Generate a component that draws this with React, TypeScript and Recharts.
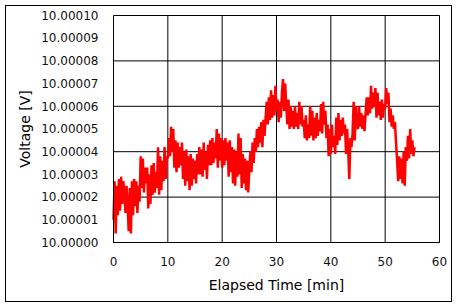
import { LineChart, Line, XAxis, YAxis, CartesianGrid } from "recharts";

// sample spacing of the logger, in minutes
const SAMPLE_MIN = 0.2;

// reading above 10 V, in microvolts (one row per minute)
const voltageOffsetUV = [
  10, 27, 4, 25, 12,
  28, 14, 29, 17, 27,
  22, 13, 25, 16, 5,
  24, 4, 27, 12, 28,
  16, 27, 13, 25, 18,
  38, 24, 37, 22, 33,
  26, 33, 15, 30, 17,
  34, 21, 35, 22, 31,
  24, 42, 21, 38, 23,
  36, 27, 42, 28, 38,
  37, 46, 38, 51, 40,
  50, 33, 45, 31, 44,
  33, 42, 34, 44, 28,
  40, 25, 41, 27, 38,
  23, 39, 25, 37, 28,
  36, 26, 39, 30, 42,
  30, 41, 29, 44, 32,
  40, 28, 43, 34, 45,
  34, 46, 35, 44, 37,
  50, 33, 48, 36, 46,
  33, 45, 34, 46, 36,
  44, 29, 45, 31, 42,
  26, 41, 25, 40, 29,
  48, 30, 46, 24, 39,
  26, 37, 23, 36, 22,
  33, 40, 31, 44, 35,
  46, 40, 50, 42, 51,
  44, 53, 42, 54, 47,
  55, 62, 52, 64, 54,
  67, 55, 65, 56, 69,
  58, 63, 53, 62, 55,
  66, 72, 58, 70, 60,
  52, 63, 50, 60, 51,
  58, 50, 60, 51, 57,
  50, 62, 52, 60, 51,
  54, 46, 56, 45, 52,
  46, 60, 47, 58, 45,
  55, 46, 57, 47, 54,
  49, 61, 48, 62, 52,
  58, 46, 52, 38, 50,
  39, 52, 42, 47, 39,
  55, 43, 57, 45, 54,
  47, 55, 48, 52, 39,
  50, 40, 28, 46, 42,
  48, 62, 45, 60, 51,
  50, 60, 51, 57, 50,
  56, 49, 57, 64, 56,
  64, 57, 69, 59, 66,
  60, 68, 55, 66, 56,
  62, 54, 63, 55, 61,
  59, 68, 61, 66, 53,
  59, 51, 56, 50, 53,
  44, 36, 27, 38, 28,
  37, 26, 40, 25, 42,
  36, 47, 37, 50, 39,
  45, 38, 42,
];

const xTicks = [0, 10, 20, 30, 40, 50, 60];
const yTicks = [0, 10, 20, 30, 40, 50, 60, 70, 80, 90, 100];

const data = voltageOffsetUV.map((uv, i) => ({ time: i * SAMPLE_MIN, uv }));

const formatVolt = (uv: number) => (10 + uv / 1e6).toFixed(5);

const tickStyle = { fontFamily: "DejaVu Sans", fontSize: 12, fill: "#111" };
const titleStyle = { fontFamily: "DejaVu Sans", fontSize: 14, fill: "#000" };

export default function App() {
  return (
    <div
      style={{
        position: "fixed",
        left: 0,
        top: 0,
        width: 458,
        height: 307,
        background: "#fff",
      }}
    >
      <div
        style={{
          position: "absolute",
          left: 5,
          top: 5,
          width: 447,
          height: 297,
          boxSizing: "border-box",
          border: "1px solid #000",
        }}
      />
      <LineChart
        width={458}
        height={307}
        data={data}
        margin={{ top: 15.5, right: 18.5, bottom: 14.5, left: 13.5 }}
        style={{ position: "absolute", left: 0, top: 0 }}
      >
        <CartesianGrid stroke="#000" strokeWidth={1} />
        <XAxis
          dataKey="time"
          type="number"
          domain={[0, 60]}
          ticks={xTicks}
          height={50}
          tickLine={false}
          tickSize={0}
          tickMargin={15}
          axisLine={{ stroke: "#000" }}
          tick={tickStyle}
          label={{
            value: "Elapsed Time [min]",
            position: "insideBottom",
            offset: 3,
            style: titleStyle,
          }}
        />
        <YAxis
          type="number"
          domain={[0, 100]}
          ticks={yTicks}
          width={100}
          tickLine={false}
          tickSize={0}
          tickMargin={15}
          axisLine={{ stroke: "#000" }}
          tick={tickStyle}
          tickFormatter={formatVolt}
          label={{
            value: "Voltage [V]",
            angle: -90,
            position: "insideLeft",
            offset: 11.5,
            style: { ...titleStyle, textAnchor: "middle" },
          }}
        />
        <Line
          dataKey="uv"
          stroke="#ff0000"
          strokeWidth={2.5}
          dot={false}
          isAnimationActive={false}
        />
      </LineChart>
    </div>
  );
}
